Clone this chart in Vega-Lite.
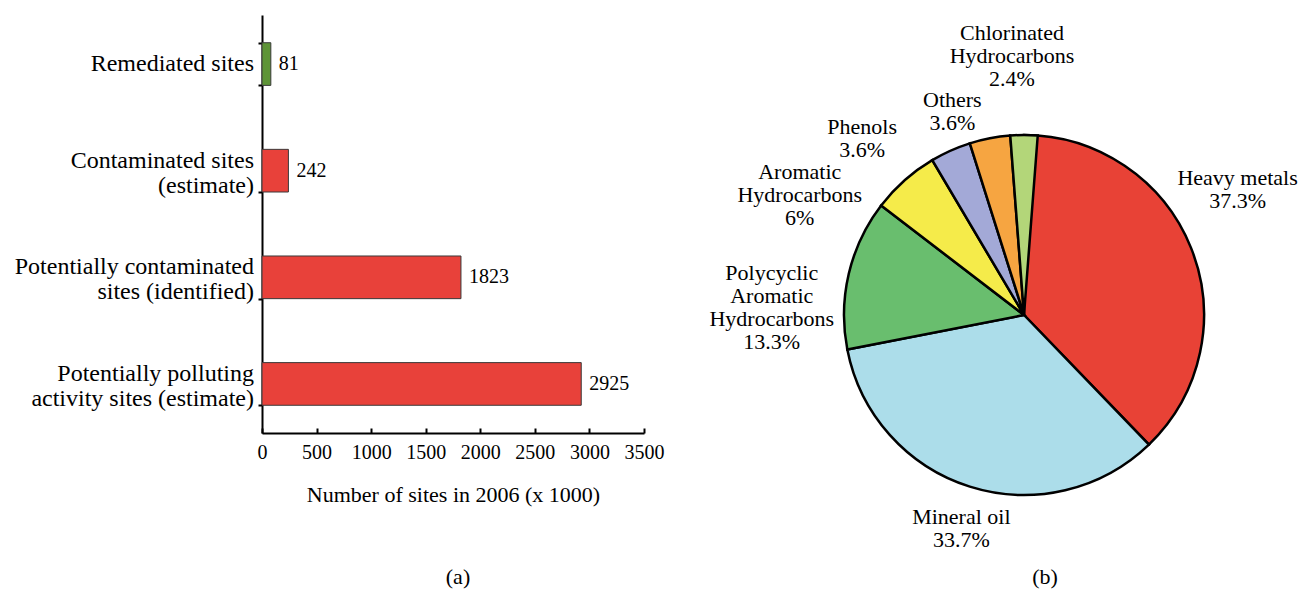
{
  "$schema": "https://vega.github.io/schema/vega-lite/v6.json",
  "padding": {"left": 14, "top": 15, "right": 0, "bottom": 0},
  "autosize": {"type": "pad"},
  "background": "white",
  "config": {
    "font": "Liberation Serif",
    "text": {"font": "Liberation Serif"},
    "axis": {"labelFont": "Liberation Serif", "titleFont": "Liberation Serif"},
    "view": {"stroke": null},
    "title": {"font": "Liberation Serif", "fontSize": 22, "fontWeight": "normal", "color": "black"}
  },
  "spacing": 60,
  "bounds": "flush",
  "hconcat": [
    {
      "width": 382,
      "height": 418,
      "title": {"text": "(a)", "orient": "bottom", "offset": 62, "dx": 5},
      "data": {"values": [
        {"site": "Remediated sites", "n": 81},
        {"site": "Contaminated sites\n(estimate)", "n": 242},
        {"site": "Potentially contaminated\nsites (identified)", "n": 1823},
        {"site": "Potentially polluting\nactivity sites (estimate)", "n": 2925}
      ]},
      "encoding": {
        "y": {
          "field": "site", "type": "nominal", "sort": null,
          "scale": {"paddingInner": 0.6, "paddingOuter": 0.26},
          "axis": {
            "title": null, "labels": false,
            "tickSize": 4, "tickWidth": 2, "tickColor": "black", "tickBand": "extent",
            "domainColor": "black", "domainWidth": 2
          }
        },
        "x": {
          "field": "n", "type": "quantitative",
          "scale": {"domain": [0, 3500], "nice": false},
          "axis": {
            "values": [0, 500, 1000, 1500, 2000, 2500, 3000, 3500], "format": "d",
            "title": "Number of sites in 2006 (x 1000)", "titleFontSize": 22, "titleFontWeight": "normal",
            "titleColor": "black", "titlePadding": 22,
            "labelFontSize": 20, "labelColor": "black", "labelPadding": 14, "labelFlush": false, "labelOverlap": false,
            "tickSize": -5, "tickWidth": 2, "tickColor": "black",
            "domainColor": "black", "domainWidth": 2, "grid": false
          }
        }
      },
      "layer": [
        {
          "mark": {"type": "bar", "stroke": "#3a3a3a", "strokeWidth": 1},
          "encoding": {
            "fill": {"condition": {"test": "datum.site === 'Remediated sites'", "value": "#5E9437"}, "value": "#E8413A"}
          }
        },
        {
          "mark": {"type": "text", "font": "Liberation Serif", "align": "left", "baseline": "middle", "dx": 8, "fontSize": 20, "color": "black"},
          "encoding": {"text": {"field": "n", "type": "quantitative", "format": "d"}}
        },
        {
          "transform": [{"filter": "indexof(datum.site, '\\n') < 0"}],
          "mark": {"type": "text", "font": "Liberation Serif", "align": "right", "baseline": "middle", "dx": -8, "fontSize": 24, "color": "black"},
          "encoding": {"x": {"datum": 0}, "text": {"field": "site"}}
        },
        {
          "transform": [{"filter": "indexof(datum.site, '\\n') >= 0"}],
          "mark": {"type": "text", "font": "Liberation Serif", "align": "right", "baseline": "middle", "dx": -8, "dy": -10, "fontSize": 24, "lineBreak": "\n", "lineHeight": 25, "color": "black"},
          "encoding": {"x": {"datum": 0}, "text": {"field": "site"}}
        }
      ]
    },
    {
      "width": 640,
      "height": 600,
      "title": {"text": "(b)", "orient": "bottom", "offset": -48, "dx": 21},
      "data": {"values": [
        {"name": "Heavy metals", "pct": 37.3, "rank": 1, "label": "Heavy metals\n37.3%"},
        {"name": "Mineral oil", "pct": 33.7, "rank": 2, "label": "Mineral oil\n33.7%"},
        {"name": "Polycyclic Aromatic Hydrocarbons", "pct": 13.3, "rank": 3, "label": "Polycyclic\nAromatic\nHydrocarbons\n13.3%"},
        {"name": "Aromatic Hydrocarbons", "pct": 6, "rank": 4, "label": "Aromatic\nHydrocarbons\n6%"},
        {"name": "Phenols", "pct": 3.6, "rank": 5, "label": "Phenols\n3.6%"},
        {"name": "Others", "pct": 3.6, "rank": 6, "label": "Others\n3.6%"},
        {"name": "Chlorinated Hydrocarbons", "pct": 2.4, "rank": 7, "label": "Chlorinated\nHydrocarbons\n2.4%"}
      ]},
      "transform": [
        {"stack": "pct", "groupby": [], "sort": [{"field": "rank", "order": "ascending"}], "as": ["v0", "v1"]},
        {"calculate": "(datum.v0 + datum.v1) / 2", "as": "mid"}
      ],
      "layer": [
        {
          "mark": {"type": "arc", "outerRadius": 180, "stroke": "black", "strokeWidth": 2.5},
          "encoding": {
            "theta": {"field": "v0", "type": "quantitative", "stack": null},
            "theta2": {"field": "v1"},
            "color": {
              "field": "name", "type": "nominal", "legend": null,
              "scale": {
                "domain": ["Heavy metals", "Mineral oil", "Polycyclic Aromatic Hydrocarbons", "Aromatic Hydrocarbons", "Phenols", "Others", "Chlorinated Hydrocarbons"],
                "range": ["#E84236", "#ACDDEA", "#69BE6E", "#F5EB4A", "#A3A9D7", "#F6A541", "#B3D679"]
              }
            }
          }
        },
        {
          "transform": [{"filter": "datum.name === 'Heavy metals'"}],
          "mark": {"type": "text", "font": "Liberation Serif", "radius": 240, "dx": -9, "dy": -47, "fontSize": 22, "lineBreak": "\n", "lineHeight": 23, "align": "center", "baseline": "middle", "color": "black"},
          "encoding": {"theta": {"field": "mid", "type": "quantitative", "stack": null}, "text": {"field": "label"}}
        },
        {
          "transform": [{"filter": "datum.name === 'Mineral oil'"}],
          "mark": {"type": "text", "font": "Liberation Serif", "radius": 215, "dx": 2, "dy": -3, "fontSize": 22, "lineBreak": "\n", "lineHeight": 23, "align": "center", "baseline": "middle", "color": "black"},
          "encoding": {"theta": {"field": "mid", "type": "quantitative", "stack": null}, "text": {"field": "label"}}
        },
        {
          "transform": [{"filter": "datum.name === 'Polycyclic Aromatic Hydrocarbons'"}],
          "mark": {"type": "text", "font": "Liberation Serif", "radius": 255, "dx": -4, "dy": 16, "fontSize": 22, "lineBreak": "\n", "lineHeight": 23, "align": "center", "baseline": "middle", "color": "black"},
          "encoding": {"theta": {"field": "mid", "type": "quantitative", "stack": null}, "text": {"field": "label"}}
        },
        {
          "transform": [{"filter": "datum.name === 'Aromatic Hydrocarbons'"}],
          "mark": {"type": "text", "font": "Liberation Serif", "radius": 258, "dx": -53, "dy": 50, "fontSize": 22, "lineBreak": "\n", "lineHeight": 23, "align": "center", "baseline": "middle", "color": "black"},
          "encoding": {"theta": {"field": "mid", "type": "quantitative", "stack": null}, "text": {"field": "label"}}
        },
        {
          "transform": [{"filter": "datum.name === 'Phenols'"}],
          "mark": {"type": "text", "font": "Liberation Serif", "radius": 230, "dx": -68, "dy": 22, "fontSize": 22, "lineBreak": "\n", "lineHeight": 23, "align": "center", "baseline": "middle", "color": "black"},
          "encoding": {"theta": {"field": "mid", "type": "quantitative", "stack": null}, "text": {"field": "label"}}
        },
        {
          "transform": [{"filter": "datum.name === 'Others'"}],
          "mark": {"type": "text", "font": "Liberation Serif", "radius": 230, "dx": -28, "dy": 11, "fontSize": 22, "lineBreak": "\n", "lineHeight": 23, "align": "center", "baseline": "middle", "color": "black"},
          "encoding": {"theta": {"field": "mid", "type": "quantitative", "stack": null}, "text": {"field": "label"}}
        },
        {
          "transform": [{"filter": "datum.name === 'Chlorinated Hydrocarbons'"}],
          "mark": {"type": "text", "font": "Liberation Serif", "radius": 260, "dx": -12, "dy": -22, "fontSize": 22, "lineBreak": "\n", "lineHeight": 23, "align": "center", "baseline": "middle", "color": "black"},
          "encoding": {"theta": {"field": "mid", "type": "quantitative", "stack": null}, "text": {"field": "label"}}
        }
      ]
    }
  ]
}
